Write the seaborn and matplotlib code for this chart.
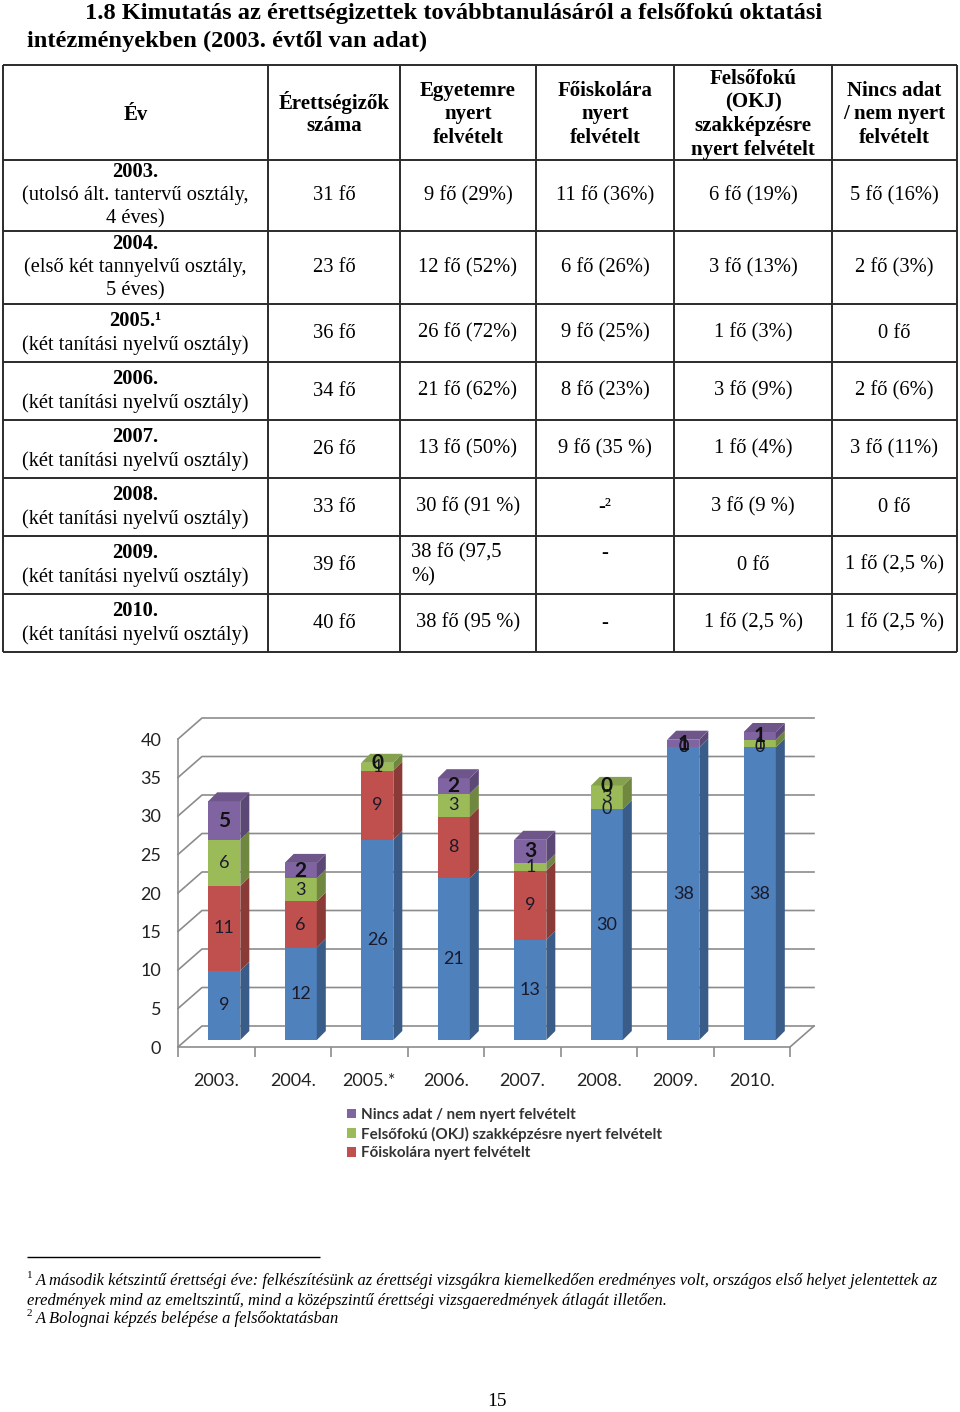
import numpy as np
import matplotlib
matplotlib.use("Agg")
import matplotlib.pyplot as plt
import seaborn as sns
from matplotlib.patches import Polygon, Patch
from matplotlib.colors import to_rgb

# ---------------- data ----------------
title_line1 = "1.8 Kimutatás az érettségizettek továbbtanulásáról a felsőfokú oktatási"
title_line2 = "intézményekben (2003. évtől van adat)"

header_cells = [
    ["Év"],
    ["Érettségizők", "száma"],
    ["Egyetemre", "nyert", "felvételt"],
    ["Főiskolára", "nyert", "felvételt"],
    ["Felsőfokú", "(OKJ)", "szakképzésre", "nyert felvételt"],
    ["Nincs adat", "/ nem nyert", "felvételt"],
]
row_years = ["2003.", "2004.", "2005.¹", "2006.", "2007.", "2008.", "2009.", "2010."]
row_desc = [
    ["(utolsó ált. tantervű osztály,", "4 éves)"],
    ["(első két tannyelvű osztály,", "5 éves)"],
    ["(két tanítási nyelvű osztály)"],
    ["(két tanítási nyelvű osztály)"],
    ["(két tanítási nyelvű osztály)"],
    ["(két tanítási nyelvű osztály)"],
    ["(két tanítási nyelvű osztály)"],
    ["(két tanítási nyelvű osztály)"],
]
col_count = ["31 fő", "23 fő", "36 fő", "34 fő", "26 fő", "33 fő", "39 fő", "40 fő"]
col_egyetem = ["9 fő (29%)", "12 fő (52%)", "26 fő (72%)", "21 fő (62%)", "13 fő (50%)",
               "30 fő (91 %)", "38 fő (97,5\n%)", "38 fő (95 %)"]
col_foiskola = ["11 fő (36%)", "6 fő (26%)", "9 fő (25%)", "8 fő (23%)", "9 fő (35 %)",
                "-²", "-", "-"]
col_okj = ["6 fő (19%)", "3 fő (13%)", "1 fő (3%)", "3 fő (9%)", "1 fő (4%)",
           "3 fő (9 %)", "0 fő", "1 fő (2,5 %)"]
col_nincs = ["5 fő (16%)", "2 fő (3%)", "0 fő", "2 fő (6%)", "3 fő (11%)",
             "0 fő", "1 fő (2,5 %)", "1 fő (2,5 %)"]

chart_years = ["2003.", "2004.", "2005.*", "2006.", "2007.", "2008.", "2009.", "2010."]
egyetem = [9, 12, 26, 21, 13, 30, 38, 38]
foiskola = [11, 6, 9, 8, 9, 0, 0, 0]
okj = [6, 3, 1, 3, 1, 3, 0, 1]
nincs = [5, 2, 0, 2, 3, 0, 1, 1]
y_ticks = [0, 5, 10, 15, 20, 25, 30, 35, 40]

legend_labels = ["Nincs adat / nem nyert felvételt",
                 "Felsőfokú (OKJ) szakképzésre nyert felvételt",
                 "Főiskolára nyert felvételt"]

footnote1a = "A második kétszintű érettségi éve: felkészítésünk az érettségi vizsgákra kiemelkedően eredményes volt, országos első helyet jelentettek az"
footnote1b = "eredmények mind az emeltszintű, mind a középszintű érettségi vizsgaeredmények átlagát illetően."
footnote2 = "A Bolognai képzés belépése a felsőoktatásban"
page_number = "15"

# ---------------- styles ----------------
BLUE, RED, GREEN, PURPLE = "#4F81BD", "#C0504D", "#9BBB59", "#8064A2"
SERIF = "Liberation Serif"
SANS = "Lato"
W, H = 960, 1412


def shade(c, f):
    r, g, b = to_rgb(c)
    return (r * f, g * f, b * f)


fig = plt.figure(figsize=(W / 100, H / 100), dpi=100)
fig.patch.set_facecolor("white")
page = fig.add_axes([0, 0, 1, 1])
page.set_xlim(0, W)
page.set_ylim(H, 0)
page.axis("off")

# ---------------- title ----------------
page.text(85, 13, title_line1, family=SERIF, weight="bold", fontsize=17.6, ha="left", va="center")
page.text(27, 41, title_line2, family=SERIF, weight="bold", fontsize=17.6, ha="left", va="center")

# ---------------- table ----------------
col_x = [3, 268, 400, 536, 674, 832, 957]
row_y = [65, 160, 231, 304, 362, 420, 478, 536, 594, 652]
lc = "#2b2b2b"
page.vlines(col_x, row_y[0], row_y[-1], color=lc, lw=1.4)
page.hlines(row_y, col_x[0], col_x[-1], color=lc, lw=1.4)
PITCH = 23.5


def put_lines(x, yc, lines, weights=None, ha="center", size=14.8):
    n = len(lines)
    for j, t in enumerate(lines):
        y = yc + (j - (n - 1) / 2) * PITCH
        w = weights[j] if weights else "normal"
        page.text(x, y, t, family=SERIF, fontsize=size, weight=w, ha=ha, va="center")


centers = [(col_x[c] + col_x[c + 1]) / 2 for c in range(6)]
for c, cell in enumerate(header_cells):
    put_lines(centers[c], (row_y[0] + row_y[1]) / 2 + 2, cell, weights=["bold"] * len(cell), size=15)

body_cols = [col_count, col_egyetem, col_foiskola, col_okj, col_nincs]
for r in range(8):
    yc = (row_y[r + 1] + row_y[r + 2]) / 2
    put_lines(centers[0], yc, [row_years[r]] + row_desc[r],
              weights=["bold"] + ["normal"] * len(row_desc[r]))
    for c, col in enumerate(body_cols, start=1):
        txt = col[r]
        lines = txt.split("\n")
        if len(lines) > 1:
            put_lines(col_x[c] + 11, yc, lines, ha="left")
        elif r == 6 and txt == "-":
            put_lines(centers[c], yc - PITCH / 2, lines)
        else:
            put_lines(centers[c], yc, lines, weights=["bold"] if (txt == "-") else None)

# ---------------- chart ----------------
L, R, B0, T0 = 178, 790, 1047, 739
ax = fig.add_axes([L / W, (H - B0) / H, (R - L) / W, (B0 - T0) / H])
ax.set_xlim(-0.5, 7.5)
ax.set_ylim(0, 40)
ax.patch.set_alpha(0)
px_x = (R - L) / 8
px_y = (B0 - T0) / 40
wx, wy = 24 / px_x, 21 / px_y
gc = "#8c8c8c"
for v in y_ticks:
    ax.plot([-0.5, -0.5 + wx, 7.5 + wx], [v, v + wy, v + wy], color=gc, lw=1.2,
            clip_on=False, zorder=1)
ax.plot([7.5, 7.5 + wx], [0, wy], color=gc, lw=1.2, clip_on=False, zorder=1)
for s in ["top", "right"]:
    ax.spines[s].set_visible(False)
for s in ["left", "bottom"]:
    ax.spines[s].set_color(gc)
    ax.spines[s].set_linewidth(1.2)
ax.set_yticks(y_ticks)
ax.set_yticklabels([str(v) for v in y_ticks], family=SANS, fontsize=13, color="#222222")
ax.tick_params(axis="y", length=0, pad=12)
ax.set_xticks(range(8))
ax.set_xticklabels(chart_years, family=SANS, fontsize=13, color="#222222")
ax.tick_params(axis="x", which="major", length=0, pad=19)
ax.set_xticks(np.arange(-0.5, 8, 1), minor=True)
ax.tick_params(axis="x", which="minor", length=7, color=gc, width=1.2)

# bars (front faces via seaborn, stacked by drawing cumulative totals)
BDX, BDY = 8, 7
axb = fig.add_axes([(L + BDX) / W, (H - B0 + BDY) / H, (R - L) / W, (B0 - T0) / H])
stack = [egyetem, foiskola, okj, nincs]
colors = [BLUE, RED, GREEN, PURPLE]
cum = np.cumsum(np.array(stack), axis=0)
for k in [3, 2, 1, 0]:
    sns.barplot(x=chart_years, y=cum[k], color=colors[k], saturation=1, width=0.42,
                linewidth=0, ax=axb, zorder=2)
axb.set_xlim(-0.5, 7.5)
axb.set_ylim(0, 40)
axb.axis("off")
axb.patch.set_alpha(0)

bx, by = 9 / px_x, 9 / px_y
n = len(chart_years)
for i in range(n):
    for k in range(4):
        p = axb.patches[(3 - k) * n + i]
        x0 = p.get_x()
        x1 = x0 + p.get_width()
        top = p.get_height()
        bot = cum[k - 1][i] if k > 0 else 0
        if top - bot > 0:
            axb.add_patch(Polygon([(x1, bot), (x1 + bx, bot + by), (x1 + bx, top + by), (x1, top)],
                                  closed=True, fc=shade(colors[k], 0.72), ec="none",
                                  clip_on=False, zorder=3))
    ktop = max(k for k in range(4) if stack[k][i] > 0)
    p = axb.patches[(3 - ktop) * n + i]
    x0 = p.get_x()
    x1 = x0 + p.get_width()
    tot = cum[3][i]
    axb.add_patch(Polygon([(x0, tot), (x1, tot), (x1 + bx, tot + by), (x0 + bx, tot + by)],
                          closed=True, fc=shade(colors[ktop], 0.86), ec="none",
                          clip_on=False, zorder=3))
    # value labels
    for k in range(4):
        v = stack[k][i]
        bot = cum[k - 1][i] if k > 0 else 0
        if k == 3:
            axb.text(i, bot + v / 2, str(v), family=SANS, fontsize=15, weight="bold",
                     color="#111111", ha="center", va="center", zorder=5, clip_on=False)
        else:
            axb.text(i, bot + v / 2, str(v), family=SANS, fontsize=13,
                     color="#1a1a2a", ha="center", va="center", zorder=5, clip_on=False)

# legend
handles = [Patch(fc=PURPLE, ec="none"), Patch(fc=GREEN, ec="none"), Patch(fc=RED, ec="none")]
fig.legend(handles, legend_labels, loc="upper left", bbox_to_anchor=(347 / W, 1 - 1108 / H),
           frameon=False, prop=dict(family=SANS, weight="bold", size=10.9),
           labelcolor="#333333", handlelength=0.6, handleheight=0.6, handletextpad=0.35,
           labelspacing=0.3, borderaxespad=0, borderpad=0)

# ---------------- footnotes ----------------
page.hlines(1257, 27, 320, color="black", lw=1)
page.text(27, 1276, "1", family=SERIF, fontsize=8, ha="left", va="center")
page.text(36, 1281, footnote1a, family=SERIF, style="italic", fontsize=11.9, ha="left", va="center")
page.text(27, 1301, footnote1b, family=SERIF, style="italic", fontsize=11.9, ha="left", va="center")
page.text(27, 1314, "2", family=SERIF, fontsize=8, ha="left", va="center")
page.text(36, 1319, footnote2, family=SERIF, style="italic", fontsize=11.9, ha="left", va="center")

page.text(497, 1401, page_number, family=SERIF, fontsize=14, ha="center", va="center")

fig.savefig("out.png", dpi=100)
